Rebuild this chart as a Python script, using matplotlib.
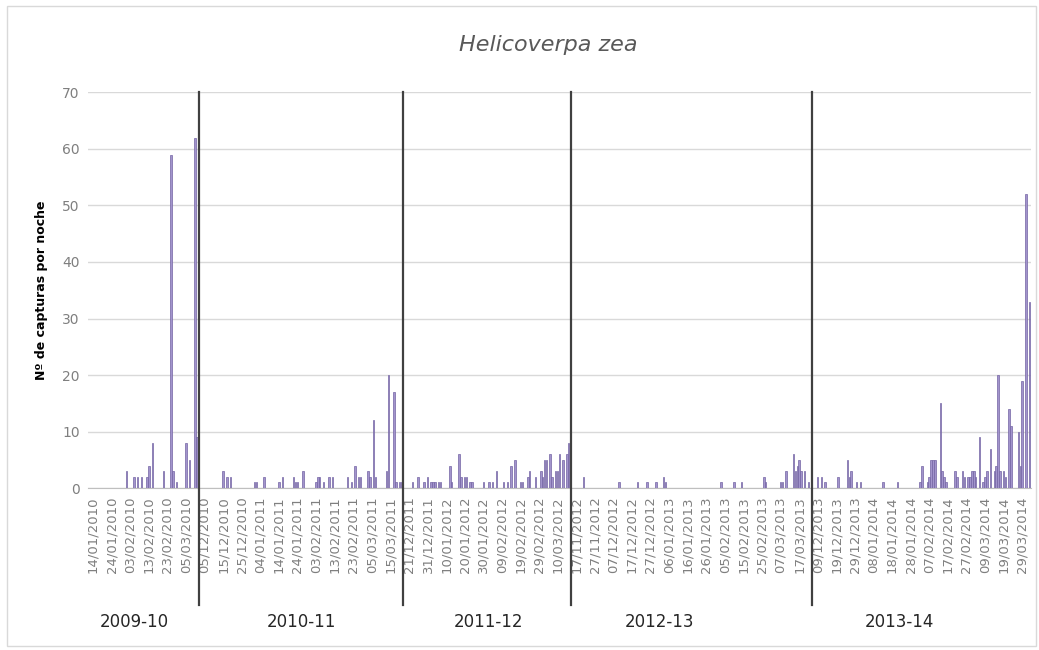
import matplotlib

matplotlib.use("Agg")
import matplotlib.pyplot as plt
import matplotlib.transforms as mtransforms
from matplotlib import font_manager
import numpy as np
import pandas as pd

TITLE = "Helicoverpa zea"
Y_LABEL = "Nº de capturas por noche"

# One category per night; each season starts on its first sampled night.
SEASONS = ["2009-10", "2010-11", "2011-12", "2012-13", "2013-14"]
SEASON_START = ["2010-01-14", "2010-12-05", "2011-12-21", "2012-11-17", "2013-12-09"]
SEASON_NIGHTS = [60, 110, 90, 130, 116]

# Nights with captures (offset from season start) and the catch of that night.
NIGHT_2009_10 = [18, 22, 24, 26, 29, 30, 32, 38, 42, 43, 45, 50, 52, 55, 56]
CATCH_2009_10 = [3, 2, 2, 2, 2, 4, 8, 3, 59, 3, 1, 8, 5, 62, 9]

NIGHT_2010_11 = [10, 12, 14, 27, 28, 32, 40, 42, 48, 49, 50, 53, 60, 61, 62, 64,
                 67, 69, 77, 79, 81, 83, 84, 88, 89, 91, 92, 98, 99, 102, 103,
                 105, 106]
CATCH_2010_11 = [3, 2, 2, 1, 1, 2, 1, 2, 2, 1, 1, 3, 1, 2, 2, 1,
                 2, 2, 2, 1, 4, 2, 2, 3, 2, 12, 2, 3, 20, 17, 1,
                 1, 1]

NIGHT_2011_12 = [2, 5, 8, 10, 12, 13, 14, 16, 17, 22, 23, 27, 28, 30, 31, 33,
                 34, 40, 43, 45, 47, 51, 53, 55, 57, 60, 61, 64, 65, 68, 71,
                 72, 73, 74, 76, 77, 79, 80, 81, 83, 85, 86]
CATCH_2011_12 = [1, 2, 1, 2, 1, 1, 1, 1, 1, 4, 1, 6, 2, 2, 2, 1,
                 1, 1, 1, 1, 3, 1, 1, 4, 5, 1, 1, 2, 3, 2, 3,
                 2, 5, 5, 6, 2, 3, 3, 6, 5, 6, 8]

NIGHT_2012_13 = [4, 23, 33, 38, 43, 47, 48, 78, 85, 89, 101, 102, 110, 111,
                 113, 117, 118, 119, 120, 121, 123, 125]
CATCH_2012_13 = [2, 1, 1, 1, 1, 2, 1, 1, 1, 1, 2, 1, 1, 1,
                 3, 6, 3, 4, 5, 3, 3, 1]

NIGHT_2013_14 = [0, 2, 4, 11, 16, 17, 18, 21, 23, 35, 43, 55, 56, 59, 60, 61,
                 62, 63, 66, 67, 68, 69, 74, 75, 78, 79, 81, 82, 83, 84, 85,
                 87, 89, 90, 91, 93, 95, 96, 97, 98, 100, 101, 103, 104, 108,
                 109, 110, 112, 114]
CATCH_2013_14 = [2, 2, 1, 2, 5, 2, 3, 1, 1, 1, 1, 1, 4, 1, 2, 5,
                 5, 5, 15, 3, 2, 1, 3, 2, 3, 2, 2, 2, 3, 3, 2,
                 9, 1, 2, 3, 7, 3, 4, 20, 3, 3, 2, 14, 11, 10,
                 4, 19, 52, 33]

NIGHTS = [NIGHT_2009_10, NIGHT_2010_11, NIGHT_2011_12, NIGHT_2012_13, NIGHT_2013_14]
CATCHES = [CATCH_2009_10, CATCH_2010_11, CATCH_2011_12, CATCH_2012_13, CATCH_2013_14]

# Where the season names sit along the category axis.
SEASON_LABEL_POS = [22, 112, 213, 305, 434]

LABEL_EVERY = 10
BAR_FACE = "#a294cc"
BAR_EDGE = "#7464a4"
GREY_TEXT = "#7f7f7f"

# Narrow face for the long date labels, if it is available.
_installed = {f.name for f in font_manager.fontManager.ttflist}
DATE_FONT = "Liberation Sans Narrow" if "Liberation Sans Narrow" in _installed else "DejaVu Sans"
DATE_SIZE = 12 if DATE_FONT == "Liberation Sans Narrow" else 9.5


def build_series():
    """Concatenate the nightly categories of all seasons into one axis."""
    dates, counts, starts = [], [], []
    for start, n, nights, catch in zip(SEASON_START, SEASON_NIGHTS, NIGHTS, CATCHES):
        starts.append(len(dates))
        days = pd.date_range(start, periods=n, freq="D")
        vals = np.zeros(n)
        vals[nights] = catch
        dates.extend(days.strftime("%d/%m/%Y"))
        counts.extend(vals)
    return dates, np.array(counts), starts


def main() -> None:
    dates, counts, starts = build_series()
    x = np.arange(len(dates))

    fig = plt.figure(figsize=(10.39, 6.5), dpi=100)
    ax = fig.add_axes([0.0847, 0.249, 0.908, 0.609])

    ax.bar(x, counts, width=0.8, color=BAR_FACE, edgecolor=BAR_EDGE,
           linewidth=0.5, zorder=3)

    ax.set_xlim(-2.7, len(dates) - 1)
    ax.set_ylim(0, 70)
    ax.set_yticks(np.arange(0, 71, 10))
    ax.tick_params(axis="y", length=0, labelsize=10, labelcolor=GREY_TEXT, pad=6)
    ax.set_xticks(x[:501:LABEL_EVERY])
    ax.set_xticklabels(dates[:501:LABEL_EVERY], rotation=90, fontsize=DATE_SIZE,
                       color=GREY_TEXT, family=DATE_FONT)
    ax.tick_params(axis="x", length=0, pad=6)
    ax.grid(axis="y", color="#d9d9d9", linewidth=1.0, zorder=0)
    for side in ("left", "right", "top"):
        ax.spines[side].set_visible(False)
    ax.spines["bottom"].set_color("#bfbfbf")

    fig.text(548 / 1039, 1 - 45 / 650, TITLE, fontstyle="italic", fontsize=16,
             color="#595959", ha="center", va="center")
    ax.set_ylabel(Y_LABEL, fontsize=9, fontweight="bold", labelpad=10)

    # Season separators run from the top of the plot down through the date labels.
    trans = mtransforms.blended_transform_factory(ax.transData, ax.transAxes)
    for s in starts[1:]:
        ax.plot([s - 3, s - 3], [1.0, -0.295], transform=trans, color="#404040",
                linewidth=1.6, clip_on=False, zorder=4)
    for name, pos in zip(SEASONS, SEASON_LABEL_POS):
        ax.text(pos, -0.338, name, transform=trans, ha="center", va="center",
                fontsize=12, color="#262626")

    fig.patches.append(plt.Rectangle((0.007, 0.006), 0.99, 0.985,
                                     transform=fig.transFigure, fill=False,
                                     edgecolor="#d9d9d9", linewidth=1.0))
    fig.savefig("out.png", dpi=100)
    plt.close(fig)


if __name__ == "__main__":
    main()
